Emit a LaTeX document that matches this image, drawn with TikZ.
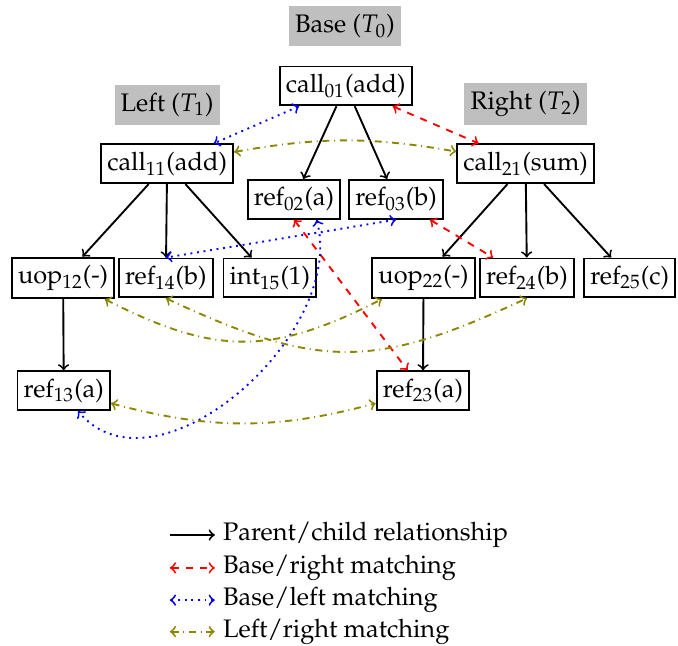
\documentclass[tikz,border=0pt]{standalone}
\usepackage[T1]{fontenc}
\usepackage{mathpazo}
\tikzset{
  ast/.style={draw,thick,rectangle,inner xsep=2.6pt,inner ysep=3.2pt},
  treelabel/.style={fill=gray!50,inner xsep=2.6pt,inner ysep=3.4pt},
  parentedge/.style={->,thick},
  brmatch/.style={<->,red,dashed,thick},
  blmatch/.style={<->,blue,dotted,thick},
  lrmatch/.style={<->,olive,dash dot,thick}
}
\begin{document}
\begin{tikzpicture}[font=\fontsize{10.75}{13}\selectfont]
  \useasboundingbox (0,0) rectangle (10.10,-9.62);
  % tree labels
  \node[treelabel] (lblbase) at (5.14,-0.39) {Base ($T_0$)};
  \node[treelabel] (lblleft) at (2.49,-1.56) {Left ($T_1$)};
  \node[treelabel] (lblright) at (7.83,-1.55) {Right ($T_2$)};
  % base
  \node[ast] (call01) at (5.15,-1.28) {call$_{01}$(add)};
  \node[ast] (ref02) at (4.38,-2.97) {ref$_{02}$(a)};
  \node[ast] (ref03) at (5.90,-2.97) {ref$_{03}$(b)};
  % left
  \node[ast] (call11) at (2.49,-2.44) {call$_{11}$(add)};
  \node[ast] (uop12) at (0.94,-4.14) {uop$_{12}$(-)};
  \node[ast] (ref14) at (2.47,-4.14) {ref$_{14}$(b)};
  \node[ast] (int15) at (4.02,-4.14) {int$_{15}$(1)};
  \node[ast] (ref13) at (0.95,-5.82) {ref$_{13}$(a)};
  % right
  \node[ast] (call21) at (7.83,-2.44) {call$_{21}$(sum)};
  \node[ast] (uop22) at (6.31,-4.14) {uop$_{22}$(-)};
  \node[ast] (ref24) at (7.85,-4.14) {ref$_{24}$(b)};
  \node[ast] (ref25) at (9.38,-4.14) {ref$_{25}$(c)};
  \node[ast] (ref23) at (6.30,-5.82) {ref$_{23}$(a)};
  % parent/child
  \foreach \p/\c in {call01/ref02,call01/ref03,call11/uop12,call11/ref14,
    call11/int15,uop12/ref13,call21/uop22,call21/ref24,call21/ref25,uop22/ref23}
    \draw[parentedge] (\p)--(\c);
  % base/right
  \draw[brmatch] (call01)--(call21);
  \draw[brmatch] (ref02.south)--(ref23.127);
  \draw[brmatch] (ref03)--(ref24);
  % base/left
  \draw[blmatch] (call01)--(call11);
  \draw[blmatch] (ref03.south)--(ref14.north);
  \draw[blmatch] (ref02.-42) to[out=-75,in=-50] (ref13.-55);
  % left/right
  \draw[lrmatch] (call11) to[bend left=10] (call21);
  \draw[lrmatch] (uop12) to[bend right=27,looseness=1.15] (uop22);
  \draw[lrmatch] (ref14.south) to[bend right=25,looseness=1.2] (ref24.south);
  \draw[lrmatch] (ref13) to[bend right=15] (ref23);
  % legend
  \coordinate (lgparentstart) at (2.53,-7.97);
  \coordinate (lgbrstart) at (2.53,-8.46);
  \coordinate (lgblstart) at (2.53,-8.94);
  \coordinate (lglrstart) at (2.53,-9.41);
  \node[anchor=west] (lgparent) at (3.20,-7.97) {Parent/child relationship};
  \node[anchor=west] (lgbr) at (3.20,-8.46) {Base/right matching};
  \node[anchor=west] (lgbl) at (3.20,-8.94) {Base/left matching};
  \node[anchor=west] (lglr) at (3.20,-9.41) {Left/right matching};
  \draw[parentedge] (lgparentstart)--(lgparent);
  \draw[brmatch] (lgbrstart)--(lgbr);
  \draw[blmatch] (lgblstart)--(lgbl);
  \draw[lrmatch] (lglrstart)--(lglr);
\end{tikzpicture}
\end{document}
